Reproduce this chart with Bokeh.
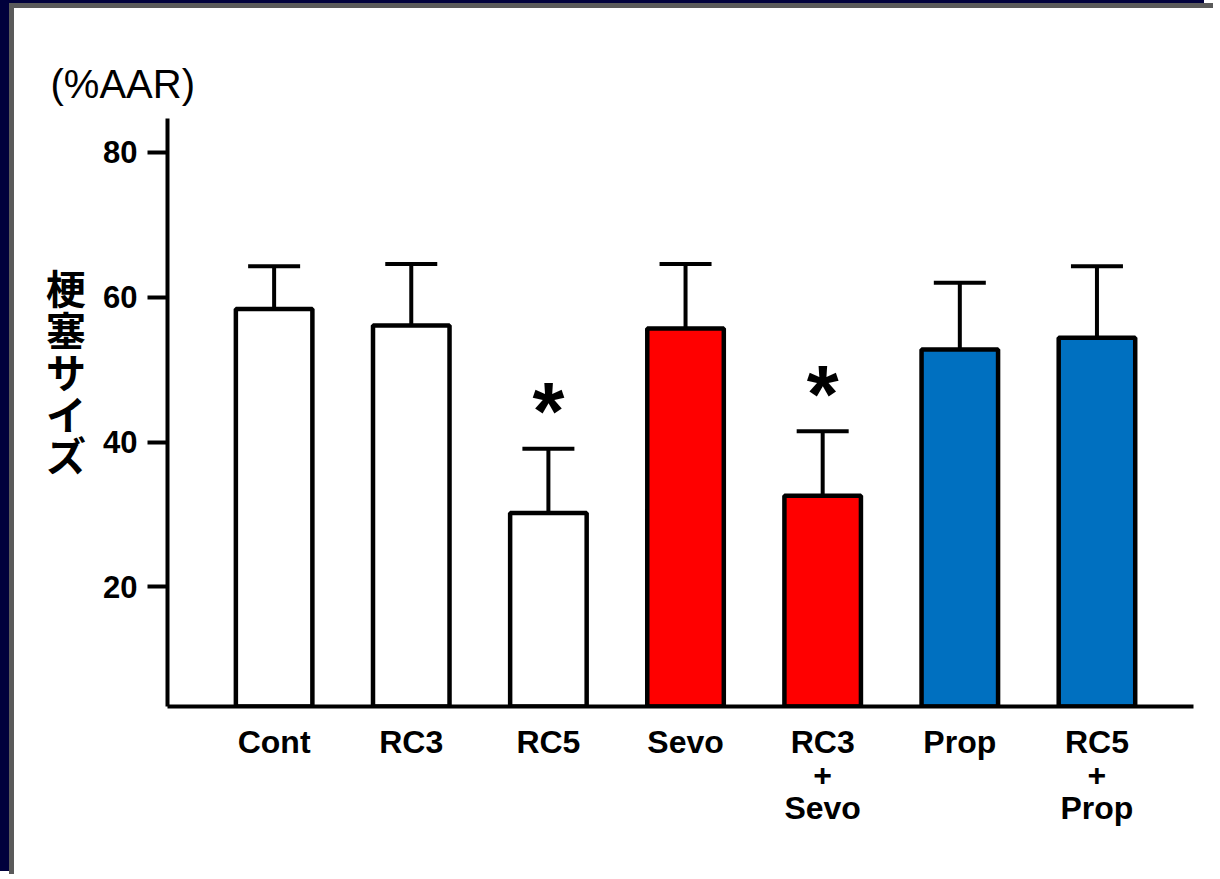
from bokeh.plotting import figure
from bokeh.models import (ColumnDataSource, FixedTicker, Whisker, TeeHead, Title, Range1d)
from bokeh.core.properties import value
from bokeh.embed import file_html
from bokeh.resources import INLINE

# ---- data ----
categories = ["Cont", "RC3", "RC5", "Sevo", "RC3\n+\nSevo", "Prop", "RC5\n+\nProp"]
groups = ["none", "none", "none", "sevo", "sevo", "prop", "prop"]
means = [58.4, 56.1, 30.2, 55.7, 32.6, 52.8, 54.4]
upper_err = [64.3, 64.6, 39.1, 64.6, 41.5, 62.0, 64.3]
significant = [False, False, True, False, True, False, False]
y_ticks = [20, 40, 60, 80]
y_unit_label = "(%AAR)"
y_title = "梗塞サイズ"

group_colors = {"none": "white", "sevo": "#FF0000", "prop": "#0070C0"}

xs = list(range(len(categories)))
src = ColumnDataSource(dict(
    x=xs, top=means, err=upper_err,
    color=[group_colors[g] for g in groups],
))

p = figure(width=1204, height=871, output_backend="svg", toolbar_location=None,
           x_range=Range1d(-0.7775, 6.704), y_range=Range1d(3.49, 84.69),
           min_border_left=153, min_border_right=25, min_border_top=110,
           min_border_bottom=173)
p.styles = {
    "margin-left": "9px", "margin-top": "3px",
    "border-left": "5px solid #5a5a5a", "border-top": "5px solid #5a5a5a",
    "box-shadow": "-9px -3px 0 0 #00003c",
}
p.outline_line_color = None
p.background_fill_color = "white"
p.border_fill_color = "white"
p.xgrid.visible = False
p.ygrid.visible = False

p.vbar(x="x", top="top", bottom=0, width=0.558, source=src,
       fill_color="color", line_color="black", line_width=4.5)

w = Whisker(source=src, base="x", upper="err", lower="top", dimension="height",
            line_color="black", line_width=4,
            upper_head=TeeHead(size=52, line_width=4, line_color="black"),
            lower_head=None)
p.add_layout(w)

sig_src = ColumnDataSource(dict(
    x=[x for x, s in zip(xs, significant) if s],
    y=[e for e, s in zip(upper_err, significant) if s],
    t=["*" for s in significant if s],
))
p.text(x="x", y="y", text="t", source=sig_src, text_align="center",
       text_baseline="middle", y_offset=-38,
       text_font=value("Liberation Sans"), text_font_style="bold",
       text_font_size="82px", text_color="black")

# y axis
ya = p.yaxis[0]
ya.ticker = FixedTicker(ticks=y_ticks)
ya.axis_line_width = 4
ya.axis_line_color = "black"
ya.major_tick_line_width = 4
ya.major_tick_out = 20
ya.major_tick_in = 0
ya.minor_tick_line_color = None
ya.major_label_standoff = 10
ya.major_label_text_font = "Liberation Sans"
ya.major_label_text_font_style = "bold"
ya.major_label_text_font_size = "31px"
ya.major_label_text_color = "black"
# two trailing empty lines lift the stacked title to where it sits in the original
ya.axis_label = "\n".join(y_title) + "\n\n"
ya.axis_label_orientation = "horizontal"
ya.axis_label_standoff = 14
ya.axis_label_text_font = "Noto Sans CJK JP"
ya.axis_label_text_font_style = "bold"
ya.axis_label_text_font_size = "40px"
ya.axis_label_text_line_height = 0.72
ya.axis_label_text_color = "black"

# x axis
xa = p.xaxis[0]
xa.ticker = FixedTicker(ticks=xs)
xa.major_label_overrides = {i: c for i, c in zip(xs, categories)}
xa.axis_line_width = 4
xa.axis_line_color = "black"
xa.major_tick_line_color = None
xa.major_tick_out = 0
xa.major_tick_in = 0
xa.minor_tick_line_color = None
xa.major_label_standoff = 17
xa.major_label_text_font = "Liberation Sans"
xa.major_label_text_font_style = "bold"
xa.major_label_text_font_size = "32px"
xa.major_label_text_line_height = 0.92
xa.major_label_text_color = "black"

p.add_layout(Title(text=y_unit_label, align="left", offset=-117, standoff=26,
                   text_font="Liberation Sans", text_font_style="normal",
                   text_font_size="40px", text_color="black"), "above")

open("out.html", "w").write(file_html(p, INLINE))
